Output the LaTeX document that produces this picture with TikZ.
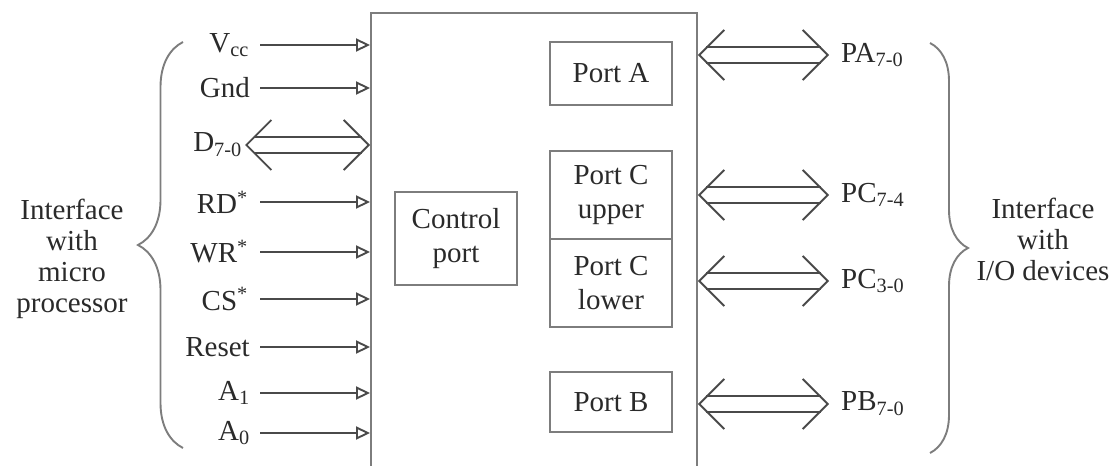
\documentclass[tikz,border=0pt]{standalone}
\usepackage{fontspec}
\setmainfont{Liberation Serif}
\usepackage{tikz}
\usepackage{xcolor}
\usetikzlibrary{arrows.meta, decorations.pathreplacing}
\definecolor{boxgray}{HTML}{7d7d7d}
\definecolor{wiregray}{HTML}{4a4a4a}
\definecolor{textgray}{HTML}{2a2a2a}

\begin{document}
\begin{tikzpicture}[x = 1pt, y = -1pt,
        txt/.style = {text = textgray, font = \fontsize{29}{31}\selectfont, align = center},
        port/.style = {txt, font = \fontsize{29}{34}\selectfont, draw = boxgray, line width = 1.9pt, rectangle, inner sep = 0pt, minimum width = 122pt},
        sig/.style = {draw = wiregray, line width = 1.9pt, -{Triangle[open, length = 14pt, width = 13pt]}},
        bus/.style = {draw = wiregray, line width = 1.9pt, double = white, double distance = 14.5pt, shorten < = 8.5pt, shorten > = 8.5pt},
        bustips/.style = {draw = white, line width = 0.1pt, {Straight Barb[length = 25pt, width = 50pt, line width = 1.9pt, color = wiregray]}-{Straight Barb[length = 25pt, width = 50pt, line width = 1.9pt, color = wiregray]}},
        brc/.style = {draw = boxgray, line width = 1.9pt, decorate, decoration = {brace, amplitude = #1}}]
        \useasboundingbox (0, 0) rectangle (1117, 466);

        % Nodes
        \node [draw = boxgray, line width = 1.9pt, rectangle, minimum width = 326pt, minimum height = 470pt] (chip) at (534, 248) {};
        \node [port, minimum height = 63pt] (porta) at (611, 73.5) {Port A};
        \node [port, minimum height = 88pt] (pcu) at (611, 195) {Port C\\upper};
        \node [port, minimum height = 88pt] (pcl) at (611, 283) {Port C\\lower};
        \node [port, minimum height = 60pt] (portb) at (611, 402) {Port B};
        \node [port, minimum height = 93pt] (ctrl) at (456, 238.5) {Control\\port};

        % Signal names, microprocessor side
        \node [txt, anchor = east, inner xsep = 11pt] (vcc) at (260, 45) {V\textsubscript{cc}};
        \node [txt, anchor = east, inner xsep = 10pt] (gnd) at (260, 88) {Gnd};
        \node [txt, anchor = east, inner xsep = 3pt] (dbus) at (245, 145) {D\textsubscript{7-0}};
        \node [txt, anchor = east, inner xsep = 12pt] (rd) at (260, 202) {RD\textsuperscript{*}};
        \node [txt, anchor = east, inner xsep = 12pt] (wr) at (260, 252) {WR\textsuperscript{*}};
        \node [txt, anchor = east, inner xsep = 12pt] (cs) at (260, 299) {CS\textsuperscript{*}};
        \node [txt, anchor = east, inner xsep = 10pt] (rst) at (260, 347) {Reset};
        \node [txt, anchor = east, inner xsep = 10pt] (aone) at (260, 393) {A\textsubscript{1}};
        \node [txt, anchor = east, inner xsep = 10pt] (azero) at (260, 433) {A\textsubscript{0}};

        % Port names, I/O side
        \node [txt, anchor = west, inner xsep = 12pt] (pa) at (829, 55) {PA\textsubscript{7-0}};
        \node [txt, anchor = west, inner xsep = 12pt] (pchi) at (829, 195) {PC\textsubscript{7-4}};
        \node [txt, anchor = west, inner xsep = 12pt] (pclo) at (829, 281) {PC\textsubscript{3-0}};
        \node [txt, anchor = west, inner xsep = 12pt] (pb) at (829, 404) {PB\textsubscript{7-0}};

        % Draw the links
        \draw [sig] (vcc.east) -- (vcc.east -| chip.west);
        \draw [sig] (gnd.east) -- (gnd.east -| chip.west);
        \draw [sig] (rd.east) -- (rd.east -| chip.west);
        \draw [sig] (wr.east) -- (wr.east -| chip.west);
        \draw [sig] (cs.east) -- (cs.east -| chip.west);
        \draw [sig] (rst.east) -- (rst.east -| chip.west);
        \draw [sig] (aone.east) -- (aone.east -| chip.west);
        \draw [sig] (azero.east) -- (azero.east -| chip.west);

        \draw [bus] (dbus.east) -- (dbus.east -| chip.west);
        \draw [bustips] (dbus.east) -- (dbus.east -| chip.west);
        \draw [bus] (chip.east |- pa.west) -- (pa.west);
        \draw [bustips] (chip.east |- pa.west) -- (pa.west);
        \draw [bus] (chip.east |- pchi.west) -- (pchi.west);
        \draw [bustips] (chip.east |- pchi.west) -- (pchi.west);
        \draw [bus] (chip.east |- pclo.west) -- (pclo.west);
        \draw [bustips] (chip.east |- pclo.west) -- (pclo.west);
        \draw [bus] (chip.east |- pb.west) -- (pb.west);
        \draw [bustips] (chip.east |- pb.west) -- (pb.west);

        % Braces and what they group
        \coordinate (lbot) at (183, 448);
        \coordinate (ltop) at (183, 42);
        \coordinate (rtop) at (930, 43);
        \coordinate (rbot) at (930, 453);
        \draw [brc = 45pt] (lbot) -- (ltop);
        \draw [brc = 38pt] (rtop) -- (rbot);
        \node [txt] (micro) at (72, 259) {Interface\\with\\micro\\processor};
        \node [txt] (iodev) at (1043, 239) {Interface\\with\\I/O devices};

    \end{tikzpicture}
\end{document}
